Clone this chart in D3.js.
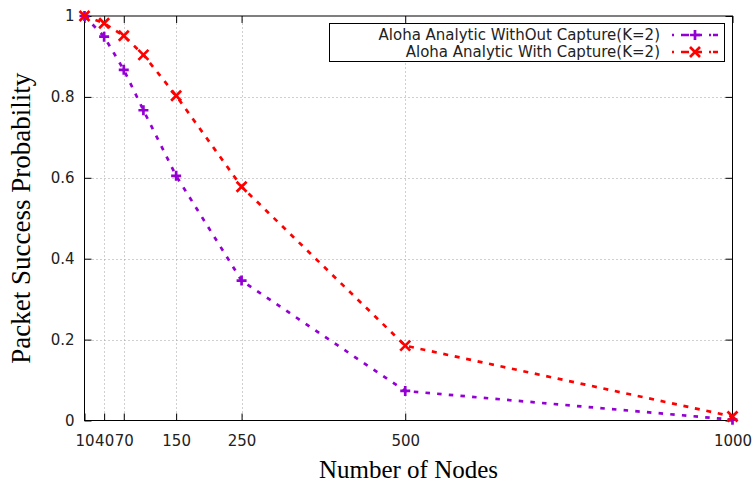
<!DOCTYPE html>
<html><head><meta charset="utf-8">
<script src="https://cdn.jsdelivr.net/npm/d3@7"></script>
<style>body{margin:0;background:#fff}svg{display:block}</style>
</head><body>
<script>
const nodes = [10, 40, 70, 100, 150, 250, 500, 1000];
const withoutCapture = [1.0, 0.949, 0.867, 0.767, 0.605, 0.346, 0.073, 0.002];
const withCapture = [1.0, 0.982, 0.951, 0.904, 0.803, 0.578, 0.185, 0.010];
const xTicks = [10, 40, 70, 150, 250, 500, 1000];
const yTicks = [0, 0.2, 0.4, 0.6, 0.8, 1];
const seriesNames = ["Aloha Analytic WithOut Capture(K=2)", "Aloha Analytic With Capture(K=2)"];
const seriesColors = ["#9400D3", "#FF0000"];
const seriesDash = ["4.5,7.2", "5,6.7"];
const xTitle = "Number of Nodes";
const yTitle = "Packet Success Probability";

const W = 755, H = 486;
const m = {l: 84.5, r: 22.5, t: 16, b: 65.5};
const svg = d3.select("body").append("svg").attr("width", W).attr("height", H);
const x = d3.scaleLinear().domain([10, 1000]).range([m.l, W - m.r]);
const y = d3.scaleLinear().domain([0, 1]).range([H - m.b, m.t]);
const sans = "DejaVu Sans, sans-serif";

// grid
const grid = svg.append("g").attr("stroke", "#a0a0a0").attr("stroke-width", 1).attr("stroke-dasharray", "1,3");
xTicks.filter(d => d > 10 && d < 1000).forEach(d => {
  grid.append("line").attr("x1", Math.round(x(d)) + 0.5).attr("x2", Math.round(x(d)) + 0.5)
    .attr("y1", y(0)).attr("y2", y(1));
});
yTicks.filter(d => d > 0 && d < 1).forEach(d => {
  grid.append("line").attr("y1", Math.round(y(d)) + 0.5).attr("y2", Math.round(y(d)) + 0.5)
    .attr("x1", x(10)).attr("x2", x(1000));
});

// axes with inward ticks
const tl = 7;
const xAx = svg.append("g").attr("transform", `translate(0,${y(0)})`)
  .call(d3.axisBottom(x).tickValues(xTicks).tickSize(-tl).tickPadding(15).tickFormat(d3.format("d")));
const xAxTop = svg.append("g").attr("transform", `translate(0,${y(1)})`)
  .call(d3.axisTop(x).tickValues(xTicks).tickSize(-tl).tickFormat(""));
const yAx = svg.append("g").attr("transform", `translate(${x(10)},0)`)
  .call(d3.axisLeft(y).tickValues(yTicks).tickSize(-tl).tickPadding(10).tickFormat(d => d === 0 || d === 1 ? d3.format("d")(d) : d3.format(".1f")(d)));
const yAxR = svg.append("g").attr("transform", `translate(${x(1000)},0)`)
  .call(d3.axisRight(y).tickValues(yTicks).tickSize(-tl).tickFormat(""));
[xAx, xAxTop, yAx, yAxR].forEach(g => {
  g.select(".domain").remove();
  g.selectAll("line").attr("stroke", "#000").attr("stroke-width", 1);
  g.selectAll("text").attr("font-family", sans).attr("font-size", 15).attr("fill", "#222");
});
svg.append("rect").attr("x", x(10)).attr("y", y(1)).attr("width", x(1000) - x(10)).attr("height", y(0) - y(1))
  .attr("fill", "none").attr("stroke", "#000").attr("stroke-width", 1);

// series
const series = [withoutCapture, withCapture];
const line = d3.line().x((d, i) => x(nodes[i])).y(d => y(d));
series.forEach((vals, s) => {
  svg.append("path").datum(vals).attr("d", line).attr("fill", "none")
    .attr("stroke", seriesColors[s]).attr("stroke-width", 2.7).attr("stroke-dasharray", seriesDash[s]);
});
function marker(g, cx, cy, s, col) {
  const r = 5;
  if (s === 0) {
    g.append("path").attr("d", `M${cx - r},${cy}H${cx + r}M${cx},${cy - r}V${cy + r}`)
      .attr("stroke", col).attr("stroke-width", 2.7).attr("fill", "none");
  } else {
    g.append("path").attr("d", `M${cx - r},${cy - r}L${cx + r},${cy + r}M${cx - r},${cy + r}L${cx + r},${cy - r}`)
      .attr("stroke", col).attr("stroke-width", 2.7).attr("fill", "none");
  }
}
series.forEach((vals, s) => {
  const g = svg.append("g");
  vals.forEach((v, i) => marker(g, x(nodes[i]), y(v), s, seriesColors[s]));
});

// legend
const lg = svg.append("g");
lg.append("rect").attr("x", 329.5).attr("y", 23.5).attr("width", 395).attr("height", 38)
  .attr("fill", "#fff").attr("stroke", "#000").attr("stroke-width", 1);
seriesNames.forEach((name, s) => {
  const cy = 35 + s * 17;
  lg.append("text").attr("x", 660).attr("y", cy).attr("dy", "0.35em").attr("text-anchor", "end")
    .attr("font-family", sans).attr("font-size", 15).attr("fill", "#222").text(name);
  lg.append("line").attr("x1", 672).attr("x2", 718).attr("y1", cy).attr("y2", cy)
    .attr("stroke", seriesColors[s]).attr("stroke-width", 2.7).attr("stroke-dasharray", "2,7,8,5,8,7,2");
  marker(lg, 695, cy, s, seriesColors[s]);
});

// titles
svg.append("text").attr("x", (x(10) + x(1000)) / 2).attr("y", 478).attr("text-anchor", "middle")
  .attr("font-family", "Liberation Serif, serif").attr("font-size", 25).attr("fill", "#000").text(xTitle);
svg.append("text").attr("transform", `translate(30,${(y(0) + y(1)) / 2}) rotate(-90)`).attr("text-anchor", "middle")
  .attr("font-family", "Liberation Serif, serif").attr("font-size", 27).attr("fill", "#000").text(yTitle);
</script>
</body></html>
